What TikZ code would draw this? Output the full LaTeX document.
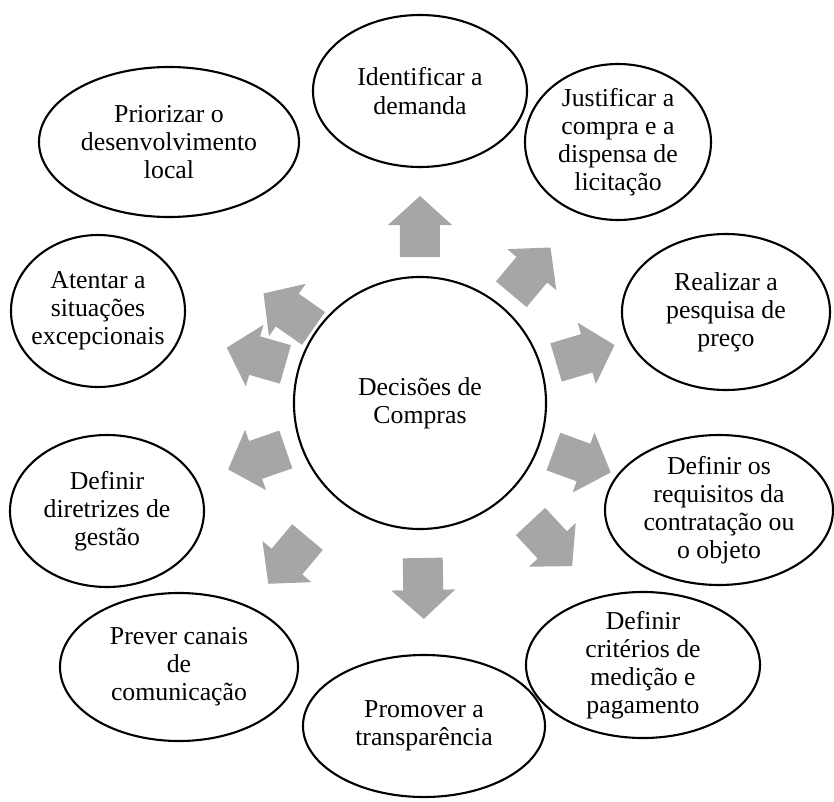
\documentclass[tikz,border=0pt]{standalone}
\usepackage{fontspec}
\setmainfont{Liberation Serif}
\usetikzlibrary{shapes.geometric}
\definecolor{arrowgray}{RGB}{166,166,166}
\tikzset{
  bubble/.style={ellipse, draw, line width=1.8pt, inner sep=-1cm, align=center, font=\fontsize{22}{24}\selectfont},
}
\begin{document}
\begin{tikzpicture}[x=0.03cm, y=0.03cm]
\useasboundingbox (-420, -398) rectangle (414, 403);
\foreach \ang/\rad in {90/176, 50/172, 16.6/172, -20/172, -47/192, -89/185, -130/205, -160.9/172, 164/170, 145/160}
  \fill[arrowgray, rotate=\ang] ({\rad-30}, -20) -- ({\rad+2}, -20) -- ({\rad+2}, -32) -- ({\rad+31}, 0) -- ({\rad+2}, 32) -- ({\rad+2}, 20) -- ({\rad-30}, 20) -- cycle;
\node[bubble, circle, minimum size=7.56cm] (hub) at(0, 0) {Decisões de\\Compras};
\node[bubble, minimum width=6.42cm, minimum height=4.56cm] (demanda) at(0, 312) {Identificar a\\demanda};
\node[bubble, minimum width=5.58cm, minimum height=4.68cm] (justificar) at(198, 261) {Justificar a\\compra e a\\dispensa de\\licitação};
\node[bubble, minimum width=6.24cm, minimum height=4.68cm] (pesquisa) at(306, 91) {Realizar a\\pesquisa de\\preço};
\node[bubble, minimum width=6.84cm, minimum height=4.5cm] (requisitos) at(299, -107) {Definir os\\requisitos da\\contratação ou\\o objeto};
\node[bubble, minimum width=7.02cm, minimum height=4.38cm] (criterios) at(223, -262) {Definir\\critérios de\\medição e\\pagamento};
\node[bubble, minimum width=7.26cm, minimum height=4.26cm] (transparencia) at(4, -323) {Promover a\\transparência};
\node[bubble, minimum width=7.14cm, minimum height=4.44cm] (canais) at(-241, -264) {Prever canais\\de\\comunicação};
\node[bubble, minimum width=5.82cm, minimum height=4.56cm] (diretrizes) at(-313, -108) {Definir\\diretrizes de\\gestão};
\node[bubble, minimum width=5.22cm, minimum height=4.56cm] (situacoes) at(-322, 92) {Atentar a\\situações\\excepcionais};
\node[bubble, minimum width=7.8cm, minimum height=4.5cm] (local) at(-251, 261) {Priorizar o\\desenvolvimento\\local};
\end{tikzpicture}
\end{document}
